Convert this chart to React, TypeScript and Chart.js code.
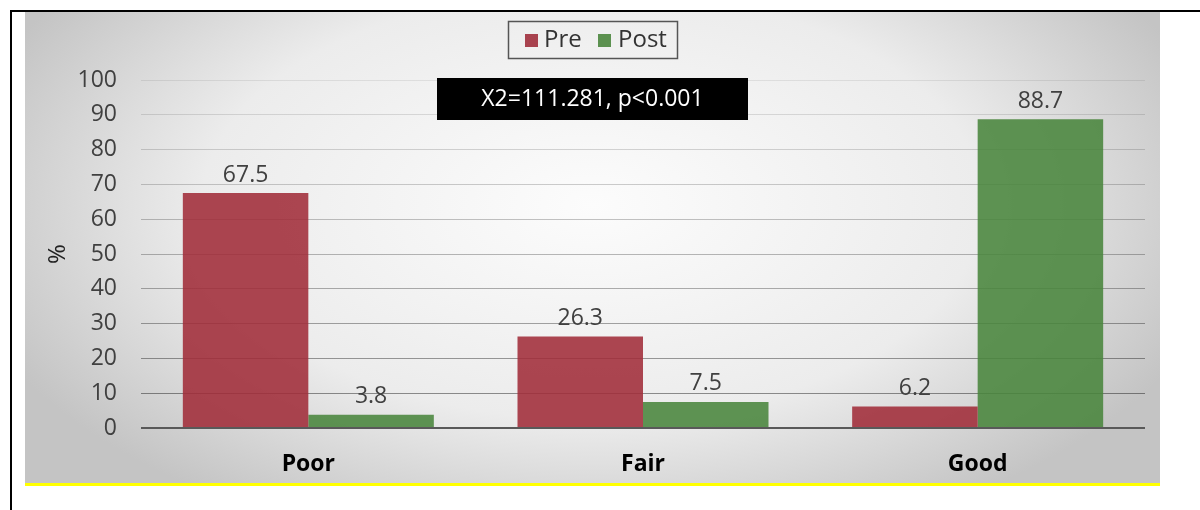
import React, { useEffect, useRef } from "react";
import { Chart, registerables } from "chart.js";

Chart.register(...registerables);

const categories = ["Poor", "Fair", "Good"];
const seriesNames = ["Pre", "Post"];
const preValues = [67.5, 26.3, 6.2];
const postValues = [3.8, 7.5, 88.7];
const seriesColors = ["rgba(160,44,57,0.88)", "rgba(73,133,60,0.88)"];
const legendColors = ["#a8424e", "#5c9150"];
const yMin = 0;
const yMax = 100;
const yStep = 10;
const yTitle = "%";
const annotationText = "X2=111.281, p<0.001";

const FONT = "'Open Sans', 'DejaVu Sans', sans-serif";

const backgroundPlugin = {
  id: "bgPanel",
  beforeDraw(chart: any) {
    const ctx = chart.ctx as CanvasRenderingContext2D;
    ctx.save();
    ctx.fillStyle = "#ffffff";
    ctx.fillRect(0, 0, chart.width, chart.height);
    ctx.save();
    ctx.beginPath();
    ctx.rect(25, 12, 1135, 471);
    ctx.clip();
    ctx.translate(592, 205);
    ctx.scale(1, 0.55);
    const g = ctx.createRadialGradient(0, 0, 0, 0, 0, 650);
    g.addColorStop(0, "#fcfcfc");
    g.addColorStop(0.6, "#ececec");
    g.addColorStop(1, "#c4c4c4");
    ctx.fillStyle = g;
    ctx.fillRect(-800, -900, 1600, 1800);
    ctx.restore();
    ctx.fillStyle = "#ffff00";
    ctx.fillRect(25, 483, 1135, 3);
    ctx.fillStyle = "#000000";
    ctx.fillRect(10, 10, 1190, 2);
    ctx.fillRect(10, 10, 2, 500);
    ctx.restore();
  },
};

const labelsPlugin = {
  id: "valueLabels",
  afterDatasetsDraw(chart: any) {
    const ctx = chart.ctx as CanvasRenderingContext2D;
    ctx.save();
    ctx.font = `23px ${FONT}`;
    ctx.fillStyle = "#404040";
    ctx.textAlign = "center";
    ctx.textBaseline = "middle";
    chart.data.datasets.forEach((ds: any, i: number) => {
      const meta = chart.getDatasetMeta(i);
      meta.data.forEach((bar: any, j: number) => {
        ctx.fillText(String(ds.data[j]), bar.x, bar.y - 18);
      });
    });
    ctx.restore();
  },
};

const overlayPlugin = {
  id: "overlay",
  afterDraw(chart: any) {
    const ctx = chart.ctx as CanvasRenderingContext2D;
    ctx.save();
    ctx.strokeStyle = "#555555";
    ctx.lineWidth = 1.5;
    ctx.strokeRect(508.5, 21.5, 169, 37);
    ctx.font = `24px ${FONT}`;
    ctx.textBaseline = "middle";
    ctx.textAlign = "left";
    const items = [
      { sx: 525, tx: 544 },
      { sx: 598, tx: 618 },
    ];
    chart.data.datasets.forEach((ds: any, i: number) => {
      ctx.fillStyle = legendColors[i];
      ctx.fillRect(items[i].sx, 34, 13, 13);
      ctx.fillStyle = "#333333";
      ctx.fillText(ds.label, items[i].tx, 40);
    });
    ctx.fillStyle = "#000000";
    ctx.fillRect(437, 78, 311, 42);
    ctx.fillStyle = "#ffffff";
    ctx.font = `23px ${FONT}`;
    ctx.textAlign = "center";
    ctx.fillText(annotationText, 592.5, 99);
    ctx.restore();
  },
};

export default function App() {
  const ref = useRef<HTMLCanvasElement | null>(null);

  useEffect(() => {
    document.body.style.margin = "0";
    if (!ref.current) return;
    const chart = new Chart(ref.current, {
      type: "bar",
      data: {
        labels: categories,
        datasets: [
          { label: seriesNames[0], data: preValues, backgroundColor: seriesColors[0] },
          { label: seriesNames[1], data: postValues, backgroundColor: seriesColors[1] },
        ],
      },
      options: {
        responsive: false,
        animation: false,
        events: [],
        layout: { padding: { left: 0, right: 55, top: 80, bottom: 0 } },
        datasets: { bar: { categoryPercentage: 0.75, barPercentage: 1 } },
        plugins: {
          legend: { display: false },
          tooltip: { enabled: false },
        },
        scales: {
          x: {
            grid: { display: false },
            border: { display: false },
            ticks: {
              color: "#000000",
              padding: 15,
              font: { family: FONT, size: 23, weight: "bold" },
            },
            afterFit: (scale: any) => {
              scale.height = 82;
            },
          },
          y: {
            min: yMin,
            max: yMax,
            border: { display: false },
            grid: {
              drawTicks: false,
              color: (c: any) => {
                const v = c.tick ? c.tick.value : 0;
                if (v === 0) return "#595959";
                const a = 0.42 - ((v - 10) / 90) * 0.34;
                return `rgba(0,0,0,${a.toFixed(3)})`;
              },
              lineWidth: (c: any) => (c.tick && c.tick.value === 0 ? 2 : 1),
            },
            ticks: {
              stepSize: yStep,
              padding: 24,
              color: "#404040",
              font: { family: FONT, size: 23 },
            },
            title: {
              display: true,
              text: yTitle,
              color: "#222222",
              padding: { top: 44, bottom: 0 },
              font: { family: FONT, size: 24 },
            },
            afterFit: (scale: any) => {
              scale.width = 141;
            },
          },
        },
      },
      plugins: [backgroundPlugin, labelsPlugin, overlayPlugin],
    } as any);
    return () => chart.destroy();
  }, []);

  return (
    <canvas
      ref={ref}
      width={1200}
      height={510}
      style={{ display: "block", width: 1200, height: 510 }}
    />
  );
}
